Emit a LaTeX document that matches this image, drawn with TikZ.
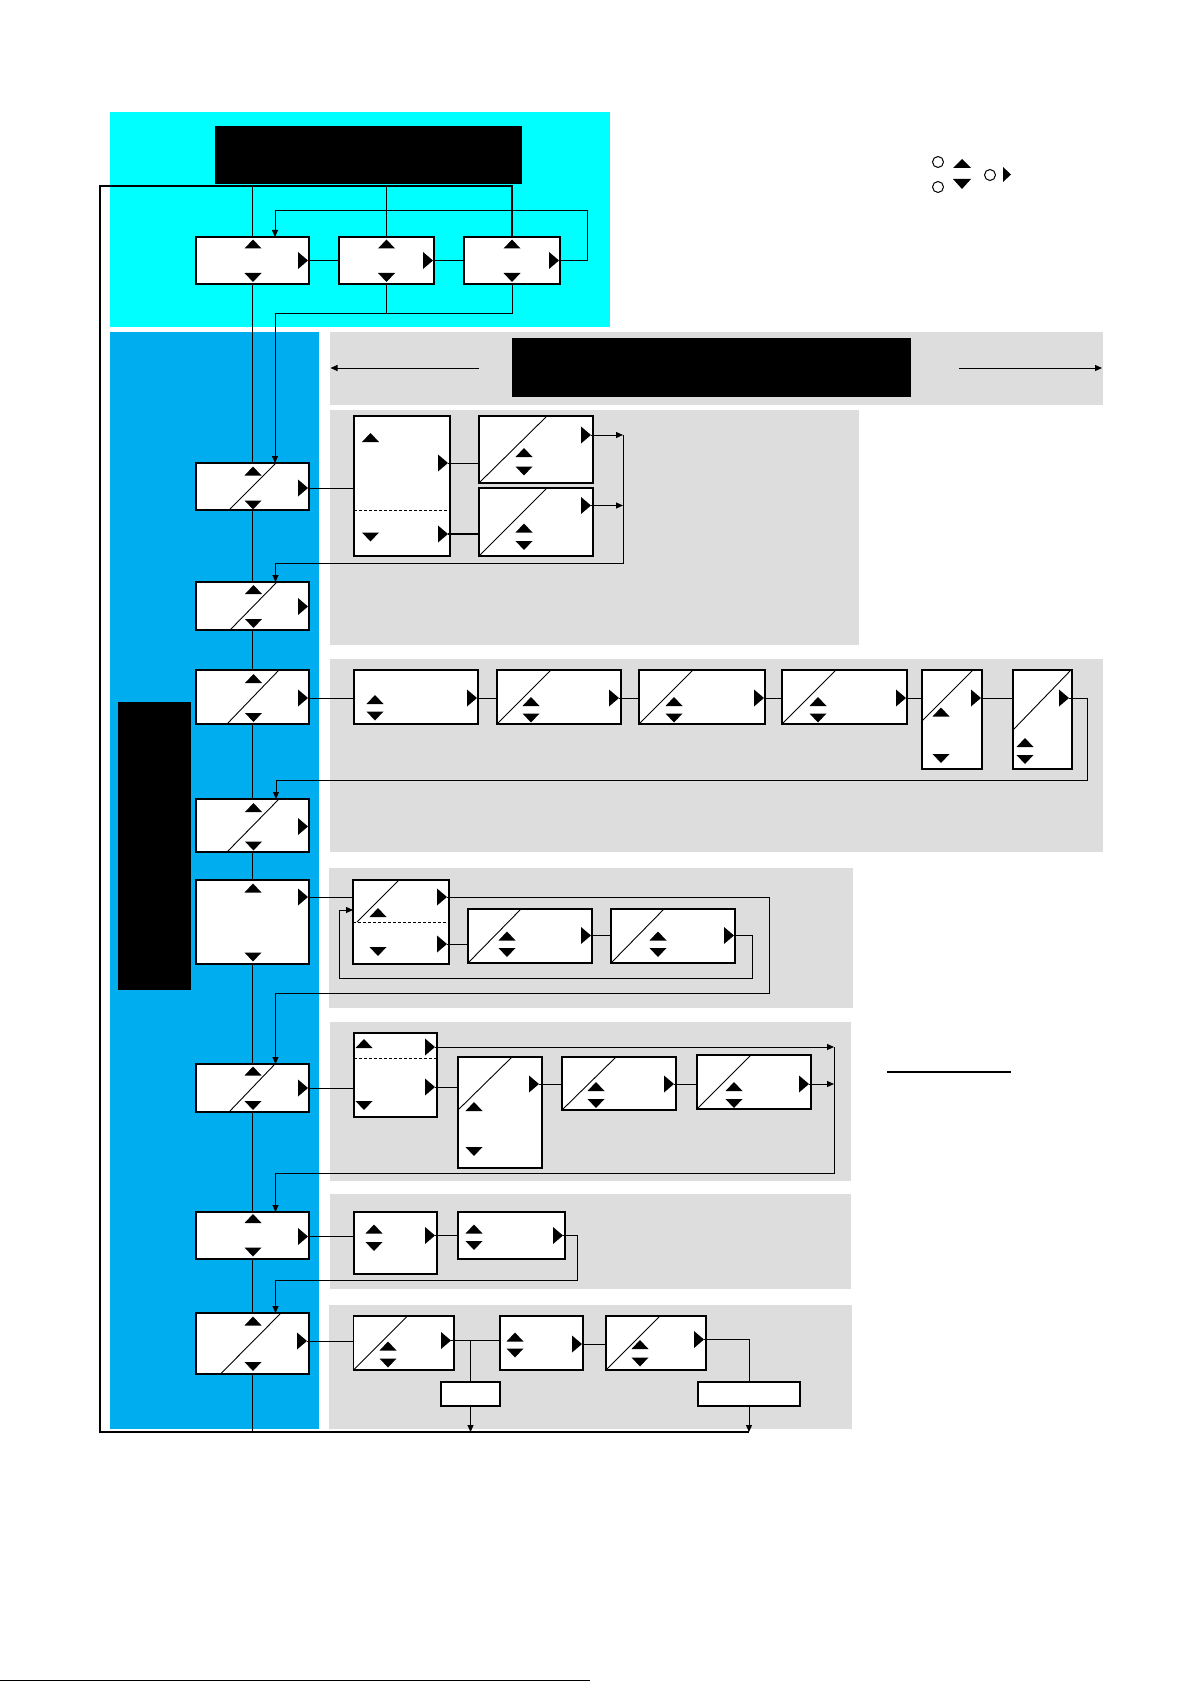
\documentclass[tikz,border=0pt]{standalone}
\usepackage{tikz}
\usetikzlibrary{
	arrows.meta,
	fit
}
\definecolor{topcyan}{RGB}{0,255,255}
\definecolor{menublue}{RGB}{0,174,239}
\definecolor{panelgray}{RGB}{221,221,221}
\tikzset{every path/.append style={line width=1pt}}
\tikzset{every path/.append style={>={Triangle[length=7pt,width=6pt]}}}
\tikzset{
	box/.style={draw,fill=white,line width=1.4pt,inner sep=0pt,outer sep=0pt},
	bar/.style={fill=black,inner sep=0pt,outer sep=0pt},
	panel/.style={fill=panelgray},
	slash/.style={line width=0.9pt},
	divider/.style={dash pattern=on 3pt off 2pt},
	loopline/.style={line width=1.8pt}
}
\newcommand{\tikzBox}[3]{\node[box,fit={#2 #3}] (#1) {};}
\newcommand{\tikzUp}[1]{\fill #1 ++(-8.5,4.5) -- ++(17,0) -- ++(-8.5,-9) -- cycle;}
\newcommand{\tikzDn}[1]{\fill #1 ++(-8.5,-4.5) -- ++(17,0) -- ++(-8.5,9) -- cycle;}
\newcommand{\tikzRight}[2]{\coordinate (#2) at #1; \fill (#2) -- ++(-10,-8.5) -- ++(0,17) -- cycle;}
\newcommand{\tikzSlash}[3]{\draw[slash] ([xshift=#2pt]#1.south west) -- ([xshift=#3pt]#1.north west);}

\begin{document}
\begin{tikzpicture}[x=1pt,y=-1pt]
	\useasboundingbox (0,0) rectangle (1191,1685);

	\fill[topcyan] (110,112) rectangle (610,327);
	\fill[menublue] (110,332) rectangle (319,1429);
	\fill[panel] (330,332) rectangle (1103,405);
	\fill[panel] (330,410) rectangle (859,645);
	\fill[panel] (330,659) rectangle (1103,852);
	\fill[panel] (329,868) rectangle (853,1008);
	\fill[panel] (330,1022) rectangle (851,1181);
	\fill[panel] (330,1194) rectangle (851,1289);
	\fill[panel] (329,1305) rectangle (852,1429);

	\node[bar,fit={(215,126) (522,184)}] (title) {};
	\node[bar,fit={(512,338) (911,397)}] (head) {};
	\node[bar,fit={(118,702) (191,990)}] (side) {};

	\tikzBox{t1}{(196,237)}{(309,284)}
	\tikzBox{t2}{(339,237)}{(434,284)}
	\tikzBox{t3}{(464,237)}{(560,284)}

	\tikzBox{s1}{(196,463)}{(309,510)}
	\tikzBox{s2}{(196,582)}{(309,630)}
	\tikzBox{s3}{(196,670)}{(309,724)}
	\tikzBox{s4}{(196,799)}{(309,852)}
	\tikzBox{s5}{(196,880)}{(309,964)}
	\tikzBox{s6}{(196,1064)}{(309,1112)}
	\tikzBox{s7}{(196,1212)}{(309,1259)}
	\tikzBox{s8}{(196,1313)}{(309,1374)}

	\tikzBox{a}{(354,416)}{(450,556)}
	\tikzBox{b1}{(479,416)}{(593,483)}
	\tikzBox{b2}{(479,488)}{(593,556)}

	\tikzBox{c1}{(354,670)}{(478,724)}
	\tikzBox{c2}{(497,670)}{(621,724)}
	\tikzBox{c3}{(639,670)}{(765,724)}
	\tikzBox{c4}{(782,670)}{(907,724)}
	\tikzBox{c5}{(922,670)}{(982,769)}
	\tikzBox{c6}{(1013,670)}{(1072,769)}

	\tikzBox{d1}{(353,880)}{(449,964)}
	\tikzBox{d2}{(468,909)}{(592,963)}
	\tikzBox{d3}{(611,909)}{(735,963)}

	\tikzBox{e1}{(354,1033)}{(437,1117)}
	\tikzBox{e2}{(458,1057)}{(542,1168)}
	\tikzBox{e3}{(562,1057)}{(676,1110)}
	\tikzBox{e4}{(697,1055)}{(811,1109)}

	\tikzBox{f1}{(354,1212)}{(437,1274)}
	\tikzBox{f2}{(458,1212)}{(565,1259)}

	\tikzBox{g1}{(353.5,1316)}{(454,1370)}
	\tikzBox{g2}{(500,1316)}{(583,1370)}
	\tikzBox{g3}{(606,1316)}{(706,1370)}
	\tikzBox{h1}{(441,1382)}{(500,1406)}
	\tikzBox{h2}{(698,1382)}{(800,1406)}

	\tikzSlash{s1}{33}{80}
	\tikzSlash{s2}{34}{81}
	\tikzSlash{s3}{31}{83}
	\tikzSlash{s4}{31}{83}
	\tikzSlash{s6}{33}{79}
	\tikzSlash{s8}{24.5}{85}
	\tikzSlash{b1}{0}{68}
	\tikzSlash{b2}{0}{68}
	\tikzSlash{c2}{0}{54}
	\tikzSlash{c3}{0}{54}
	\tikzSlash{c4}{0}{54}
	\tikzSlash{d2}{0}{53}
	\tikzSlash{d3}{0}{53}
	\tikzSlash{e3}{0}{54}
	\tikzSlash{e4}{0}{54}
	\tikzSlash{g1}{0}{54}
	\tikzSlash{g3}{0}{54}
	\draw[slash] (922,721) -- (973,670);
	\draw[slash] (1013,730) -- (1071,670);
	\draw[slash] (357,922) -- (399,880);
	\draw[slash] (458,1110) -- (512,1057);

	\draw[divider] (a.west |- 0,510) -- (a.east |- 0,510);
	\draw[divider] (d1.west |- 0,922) -- (d1.east |- 0,922);
	\draw[divider] (e1.west |- 0,1058) -- (e1.east |- 0,1058);

	\tikzUp{(253,244)} \tikzDn{(253,277.5)} \tikzRight{(308,260.5)}{t1-r}
	\tikzUp{(386.5,244)} \tikzDn{(386.5,277.5)} \tikzRight{(433,260.5)}{t2-r}
	\tikzUp{(512,244)} \tikzDn{(512,277.5)} \tikzRight{(559,260.5)}{t3-r}

	\tikzUp{(253,471)} \tikzDn{(253,505)} \tikzRight{(308,488)}{s1-r}
	\tikzUp{(253.5,589.5)} \tikzDn{(253.5,623.5)} \tikzRight{(308,606.5)}{s2-r}
	\tikzUp{(253.5,678.5)} \tikzDn{(253.5,717.5)} \tikzRight{(308,698)}{s3-r}
	\tikzUp{(253.5,807.5)} \tikzDn{(253.5,846)} \tikzRight{(308,826.5)}{s4-r}
	\tikzUp{(253,888)} \tikzDn{(253,957)} \tikzRight{(308,897)}{s5-r}
	\tikzUp{(253,1071)} \tikzDn{(253,1105.5)} \tikzRight{(308,1088)}{s6-r}
	\tikzUp{(253,1218.5)} \tikzDn{(253,1252)} \tikzRight{(308,1236.5)}{s7-r}
	\tikzUp{(253,1321)} \tikzDn{(253,1366.5)} \tikzRight{(307,1341)}{s8-r}

	\tikzUp{(370.5,437.5)} \tikzRight{(448,463)}{a-r1}
	\tikzDn{(370.5,537)} \tikzRight{(448,534)}{a-r2}
	\tikzUp{(524,452.5)} \tikzDn{(524,471)} \tikzRight{(591,435)}{b1-r}
	\tikzUp{(524,528)} \tikzDn{(524,545.5)} \tikzRight{(591,505.5)}{b2-r}

	\tikzUp{(375,699.5)} \tikzDn{(375,716)} \tikzRight{(477,698)}{c1-r}
	\tikzUp{(531,701.5)} \tikzDn{(531,718)} \tikzRight{(619,698)}{c2-r}
	\tikzUp{(674,701.5)} \tikzDn{(674,718)} \tikzRight{(764,698)}{c3-r}
	\tikzUp{(818,701.5)} \tikzDn{(818,718)} \tikzRight{(906,698)}{c4-r}
	\tikzUp{(941,712)} \tikzDn{(941,758.5)} \tikzRight{(981,698)}{c5-r}
	\tikzUp{(1025,742.5)} \tikzDn{(1025,759.5)} \tikzRight{(1069,698)}{c6-r}

	\tikzUp{(378,912.5)} \tikzRight{(447,897)}{d1-r1}
	\tikzDn{(378,951.5)} \tikzRight{(447,944)}{d1-r2}
	\tikzUp{(507,936)} \tikzDn{(507,952.5)} \tikzRight{(591,935.5)}{d2-r}
	\tikzUp{(658,936)} \tikzDn{(658,952.5)} \tikzRight{(734,935.5)}{d3-r}

	\tikzUp{(364,1043.5)} \tikzRight{(435,1047)}{e1-r1}
	\tikzRight{(435,1087)}{e1-r2} \tikzDn{(364,1105.5)}
	\tikzUp{(474,1106.5)} \tikzDn{(474,1151.5)} \tikzRight{(539,1084)}{e2-r}
	\tikzUp{(596,1086.5)} \tikzDn{(596,1103.5)} \tikzRight{(674,1084)}{e3-r}
	\tikzUp{(734,1086.5)} \tikzDn{(734,1103.5)} \tikzRight{(809,1084)}{e4-r}

	\tikzUp{(374,1229)} \tikzDn{(374,1246.5)} \tikzRight{(435,1235.5)}{f1-r}
	\tikzUp{(474,1229)} \tikzDn{(474,1245.5)} \tikzRight{(563,1235.5)}{f2-r}

	\tikzUp{(388,1346)} \tikzDn{(388,1363)} \tikzRight{(451,1340.5)}{g1-r}
	\tikzUp{(515,1337)} \tikzDn{(515,1353)} \tikzRight{(582,1344)}{g2-r}
	\tikzUp{(640,1344.5)} \tikzDn{(640,1362)} \tikzRight{(704,1339.5)}{g3-r}

	\coordinate (lt) at (100,186);
	\coordinate (lb) at (100,1432);
	\draw[loopline] (lb -| h2.south) -- (lb) -- (lt) -- (lt -| t3.north) -- (t3.north);
	\draw (t1.north) -- (t1.north |- lt);
	\draw (t2.north) -- (t2.north |- lt);

	\draw (t1-r) -- (t1-r -| t2.west);
	\draw (t2-r) -- (t2-r -| t3.west);
	\draw[->] (t3-r) -| ++(28,-50) -| ([xshift=22.5pt]t1.north);
	\coordinate (tj) at (275,314);
	\draw (t3.south) |- (tj);
	\draw (t2.south) -- (t2.south |- tj);
	\draw[->] (tj) -- (tj |- s1.north);
	\draw (t1.south) -- (s1.north);
	\foreach \a/\b in {s1/s2,s2/s3,s3/s4,s4/s5,s5/s6,s6/s7,s7/s8}
		\draw (\a.south) -- (\b.north);
	\draw (s8.south) -- (s8.south |- lb);

	\draw[<-] (330.5,368) -- (479,368);
	\draw[->] (959,368) -- (1102,368);

	\draw (s1-r) -- (s1-r -| a.west);
	\draw (a-r1) -- (a-r1 -| b1.west);
	\draw[line width=2pt] (a-r2) -- (a-r2 -| b2.west);
	\coordinate (k1) at (623,563);
	\draw[->] (b1-r) -- (b1-r -| k1);
	\draw[->] (b2-r) -- (b2-r -| k1);
	\draw[->] (b1-r -| k1) -- (k1) -| ([xshift=23pt]s2.north);

	\draw (s3-r) -- (s3-r -| c1.west);
	\foreach \a/\b in {c1/c2,c2/c3,c3/c4,c4/c5,c5/c6}
		\draw (\a-r) -- (\a-r -| \b.west);
	\coordinate (k2) at (1087,780);
	\draw[->] (c6-r) -| (k2) -| ([xshift=23.5pt]s4.north);

	\draw (s5-r) -- (s5-r -| d1.west);
	\draw (d1-r2) -- (d1-r2 -| d2.west);
	\draw (d2-r) -- (d2-r -| d3.west);
	\coordinate (k3) at (752,978);
	\coordinate (k4) at (339,910);
	\draw[->] (d3-r) -| (k3) -| (k4) -- (k4 -| d1.west);
	\coordinate (k5) at (769,993);
	\draw[->] (d1-r1) -| (k5) -| ([xshift=23pt]s6.north);

	\draw (s6-r) -- (s6-r -| e1.west);
	\draw (e1-r2) -- (e1-r2 -| e2.west);
	\draw (e2-r) -- (e2-r -| e3.west);
	\draw (e3-r) -- (e3-r -| e4.west);
	\coordinate (k6) at (834,1173);
	\draw[->] (e1-r1) -- (e1-r1 -| k6);
	\draw[->] (e4-r) -- (e4-r -| k6);
	\draw[->] (e1-r1 -| k6) -- (k6) -| ([xshift=23pt]s7.north);

	\draw (s7-r) -- (s7-r -| f1.west);
	\draw (f1-r) -- (f1-r -| f2.west);
	\coordinate (k7) at (577,1280);
	\draw[->] (f2-r) -| (k7) -| ([xshift=23pt]s8.north);

	\draw (s8-r) -- (s8-r -| g1.west);
	\draw (g1-r) -- (g1-r -| g2.west);
	\draw (g1-r -| h1.north) -- (h1.north);
	\draw (g2-r) -- (g2-r -| g3.west);
	\draw (g3-r) -| (h2.north);
	\draw[->] (h1.south) -- (h1.south |- lb);
	\draw[->] (h2.south) -- (h2.south |- lb);

	\draw (938,162) circle (5.5);
	\draw (938,187) circle (5.5);
	\draw (990,175) circle (5.5);
	\fill (953,168) -- (971,168) -- (962,159) -- cycle;
	\fill (953,179) -- (971,179) -- (962,189) -- cycle;
	\fill (1003,167) -- (1011,174.5) -- (1003,182) -- cycle;

	\draw[line width=1.4pt] (887,1072) -- (1011,1072);
	\draw[line width=0.8pt] (0,1680) -- (590,1680);
\end{tikzpicture}
\end{document}
